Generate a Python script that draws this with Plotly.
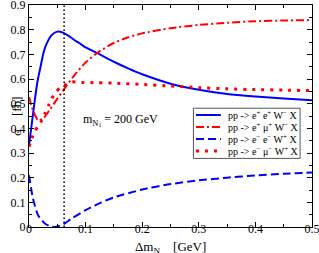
import plotly.graph_objects as go

# Blue solid: pp -> e+ e+ W- X
x_ee_p = [0, 0.005, 0.01, 0.015, 0.02, 0.025, 0.03, 0.04, 0.05, 0.06, 0.07, 0.08, 0.09, 0.1,
          0.125, 0.15, 0.175, 0.2, 0.25, 0.3, 0.35, 0.4, 0.45, 0.5]
y_ee_p = [0.33, 0.42, 0.51, 0.59, 0.645, 0.70, 0.737, 0.778, 0.792, 0.788, 0.775, 0.758, 0.744, 0.728,
          0.70, 0.67, 0.643, 0.619, 0.581, 0.556, 0.539, 0.529, 0.521, 0.514]

# Red dash-dot: pp -> e+ mu+ W- X
x_em_p = [0, 0.007, 0.016, 0.025, 0.037, 0.05, 0.063, 0.08, 0.1, 0.125, 0.15, 0.175, 0.2,
          0.25, 0.3, 0.35, 0.4, 0.45, 0.5]
y_em_p = [0.527, 0.473, 0.433, 0.44, 0.476, 0.52, 0.562, 0.615, 0.667, 0.713, 0.746, 0.769, 0.785,
          0.806, 0.819, 0.828, 0.834, 0.837, 0.839]

# Blue dashed: pp -> e- e- W+ X
x_ee_m = [0, 0.007, 0.016, 0.028, 0.037, 0.045, 0.053, 0.06, 0.075, 0.1, 0.125, 0.15, 0.2,
          0.25, 0.3, 0.35, 0.4, 0.45, 0.5]
y_ee_m = [0.21, 0.115, 0.048, 0.014, 0.003, 0.0, 0.004, 0.01, 0.034, 0.068, 0.097, 0.12, 0.152,
          0.174, 0.189, 0.2, 0.209, 0.216, 0.221]

# Red dotted: pp -> e- mu- W+ X
x_em_m = [0, 0.005, 0.011, 0.016, 0.022, 0.028, 0.034, 0.04, 0.048, 0.055, 0.063, 0.075, 0.093,
          0.12, 0.15, 0.2, 0.25, 0.3, 0.35, 0.4, 0.45, 0.5]
y_em_m = [0.325, 0.36, 0.39, 0.41, 0.43, 0.46, 0.49, 0.52, 0.548, 0.565, 0.575, 0.588, 0.586,
          0.585, 0.583, 0.578, 0.572, 0.565, 0.56, 0.557, 0.555, 0.553]

vline_x = 0.062
x_ticks = [0, 0.1, 0.2, 0.3, 0.4, 0.5]
x_tick_labels = ["0", "0.1", "0.2", "0.3", "0.4", "0.5"]
y_ticks = [0, 0.1, 0.2, 0.3, 0.4, 0.5, 0.6, 0.7, 0.8, 0.9]
y_tick_labels = ["0", "0.1", "0.2", "0.3", "0.4", "0.5", "0.6", "0.7", "0.8", "0.9"]

names = [
    "pp -> e<sup>+</sup> e<sup>+</sup> W<sup>−</sup> X",
    "pp -> e<sup>+</sup> μ<sup>+</sup> W<sup>−</sup> X",
    "pp -> e<sup>−</sup> e<sup>−</sup> W<sup>+</sup> X",
    "pp -> e<sup>−</sup> μ<sup>−</sup> W<sup>+</sup> X",
]

FONT = "Liberation Serif, Times New Roman, serif"
styles = [
    dict(color="#0000ff", width=2, dash="solid"),
    dict(color="#ff0000", width=2, dash="8px,3px,2px,3px"),
    dict(color="#0000ff", width=2, dash="8px,4px"),
    dict(color="#ff0000", width=3, dash="3px,6px"),
]
series = [(x_ee_p, y_ee_p), (x_em_p, y_em_p), (x_ee_m, y_ee_m), (x_em_m, y_em_m)]

fig = go.Figure()
for (xs, ys), st, nm in zip(series, styles, names):
    fig.add_trace(go.Scatter(x=xs, y=ys, mode="lines", name=nm, showlegend=False,
                             line=dict(shape="spline", smoothing=0.6, **st)))
fig.add_trace(go.Scatter(x=[vline_x, vline_x], y=[0, 0.9], mode="lines", showlegend=False,
                         line=dict(color="black", width=1.5, dash="1.5px,2.5px")))

# legend box (drawn in paper coordinates)
fig.add_shape(type="rect", xref="paper", yref="paper", x0=0.581, x1=0.958, y0=0.309, y1=0.535,
              line=dict(color="#555555", width=1), fillcolor="white", layer="above")
row_y = [0.5045, 0.4505, 0.3964, 0.3423]
for ry, st, nm in zip(row_y, styles, names):
    fig.add_shape(type="line", xref="paper", yref="paper", x0=0.590, x1=0.678, y0=ry, y1=ry,
                  line=st, layer="above")
    fig.add_annotation(x=0.697, y=ry, xref="paper", yref="paper", xanchor="left", yanchor="middle",
                       showarrow=False, text=nm,
                       font=dict(family=FONT, size=10, color="black"))

fig.add_annotation(x=0.162, y=0.433, xref="x", yref="y", showarrow=False,
                   text="m<sub>N<sub>1</sub></sub> = 200 GeV",
                   font=dict(family=FONT, size=12, color="black"))

# axis titles
fig.add_annotation(x=0.5, y=0, xref="paper", yref="paper", yshift=-10, yanchor="top",
                   showarrow=False, text="Δm<sub>N</sub>    [GeV]",
                   font=dict(family=FONT, size=13, color="black"))
fig.add_annotation(x=0, y=0.5, xref="paper", yref="paper", xshift=-13, xanchor="center",
                   showarrow=False, text="σ    [fb]", textangle=-90,
                   font=dict(family=FONT, size=13, color="black"))

axis_common = dict(showline=True, linecolor="black", linewidth=1, mirror="allticks",
                   ticks="inside", ticklen=5, tickwidth=1, tickcolor="black",
                   showgrid=False, zeroline=False, automargin=False,
                   ticklabeloverflow="allow",
                   tickfont=dict(family=FONT, size=12, color="black"))

fig.update_xaxes(range=[0, 0.5], tickvals=x_ticks, ticktext=x_tick_labels,
                 ticklabelstandoff=-9,
                 minor=dict(dtick=0.05, ticks="inside", ticklen=3, tickcolor="black", showgrid=False),
                 **axis_common)
fig.update_yaxes(range=[0, 0.9], tickvals=y_ticks, ticktext=y_tick_labels,
                 minor=dict(dtick=0.05, ticks="inside", ticklen=3, tickcolor="black", showgrid=False),
                 **axis_common)

fig.update_layout(
    width=319, height=253,
    margin=dict(l=29, r=7, t=5, b=26, autoexpand=False),
    plot_bgcolor="white", paper_bgcolor="white",
    showlegend=False,
)

fig.write_html("out.html", config={"displayModeBar": False},
               post_script="document.body.style.margin='0';")
